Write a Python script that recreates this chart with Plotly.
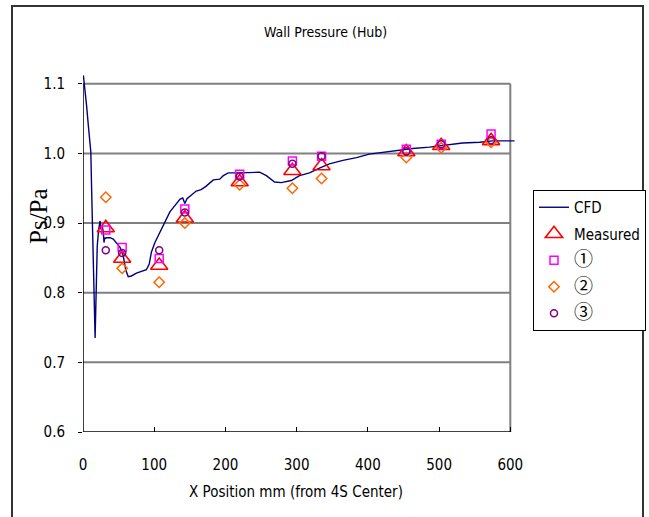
import plotly.graph_objects as go

# ---------------- data ----------------
cfd_x = [0.5, 3, 5, 7.5, 11, 12, 13.5, 14.5, 16, 17, 18, 19, 20, 22, 24, 25, 27, 28.5, 29.5, 30.5,
         31.5, 33, 38, 42.5, 47, 52, 56.5, 60, 63.5, 68, 75, 82, 89, 93, 96, 101, 108, 115, 122, 129,
         136, 140, 143, 146, 151, 159, 166, 173, 183, 192, 197, 204, 220, 248, 257.5, 269, 278.5, 292.5, 304, 318,
         332, 346, 365, 384, 402, 426, 444, 463, 486.5, 510, 533, 557, 575, 606]
cfd_y = [1.112, 1.09, 1.069, 1.04, 1.002, 0.953, 0.877, 0.824, 0.761, 0.735, 0.78, 0.829, 0.867, 0.891, 0.903, 0.891, 0.896, 0.887, 0.872, 0.879,
         0.878, 0.879, 0.879, 0.877, 0.872, 0.865, 0.853, 0.833, 0.823, 0.824, 0.828, 0.831, 0.833, 0.841, 0.858, 0.872, 0.887, 0.901, 0.916, 0.925,
         0.934, 0.936, 0.928, 0.935, 0.939, 0.946, 0.948, 0.953, 0.962, 0.963, 0.968, 0.972, 0.972, 0.973, 0.968, 0.959, 0.958, 0.961, 0.968, 0.972,
         0.979, 0.985, 0.99, 0.994, 0.999, 1.002, 1.005, 1.007, 1.009, 1.012, 1.015, 1.016, 1.018, 1.018]

meas_x = [32, 55, 107, 143, 220, 294, 335, 454, 503, 573]
measured = [0.893, 0.849, 0.839, 0.907, 0.959, 0.975, 0.982, 1.002, 1.011, 1.018]
s1 = [0.890, 0.865, 0.849, 0.920, 0.970, 0.989, 0.996, 1.006, 1.013, 1.028]
s2 = [0.937, 0.835, 0.815, 0.900, 0.955, 0.950, 0.964, 0.994, 1.008, 1.016]
s3 = [0.861, 0.857, 0.861, 0.915, 0.967, 0.985, 0.996, 1.003, 1.013, 1.019]

x_ticks = [0, 100, 200, 300, 400, 500, 600]
y_ticks = [0.6, 0.7, 0.8, 0.9, 1.0, 1.1]

title_text = "Wall Pressure (Hub)"
x_title = "X Position mm (from 4S Center)"
y_title = "Ps/Pa"

# ---------------- layout geometry ----------------
W, H = 649, 517
X_MIN, X_MAX = 0, 600
Y_MIN, Y_MAX = 0.6, 1.1
X_RANGE = [0, 608]
Y_RANGE = [0.6, 1.114]
L, R, T, B = 83, 133, 74, 85
PW, PH = W - L - R, H - T - B

def px(xp):
    return (xp - L) / PW

def py(yp):
    return 1 - (yp - T) / PH

FONT = "DejaVu Sans Condensed, Liberation Sans Narrow, Arial Narrow, Liberation Sans, sans-serif"
CJK = "Noto Sans CJK JP"

def circ(s):
    return f'<span style="font-family:{CJK};font-size:19px">{s}</span>'

fig = go.Figure()
fig.add_trace(go.Scatter(x=cfd_x, y=cfd_y, mode="lines", name="CFD", legendgroup="a",
                         line=dict(color="#000080", width=1.4)))
fig.add_trace(go.Scatter(x=meas_x, y=measured, mode="markers", name="Measured", legendgroup="b",
                         marker=dict(symbol="triangle-up-open", size=15, color="#FF0000",
                                     line=dict(width=1.6, color="#FF0000"))))
fig.add_trace(go.Scatter(x=meas_x, y=s1, mode="markers", name=circ("①"), legendgroup="c",
                         marker=dict(symbol="square-open", size=8, color="#FF00FF",
                                     line=dict(width=1.5, color="#FF00FF"))))
fig.add_trace(go.Scatter(x=meas_x, y=s2, mode="markers", name=circ("②"), legendgroup="d",
                         marker=dict(symbol="diamond-open", size=8, color="#FF6600",
                                     line=dict(width=1.5, color="#FF6600"))))
fig.add_trace(go.Scatter(x=meas_x, y=s3, mode="markers", name=circ("③"), legendgroup="e",
                         marker=dict(symbol="circle-open", size=7, color="#800080",
                                     line=dict(width=1.5, color="#800080"))))

shapes = []
for yv in y_ticks[1:]:
    shapes.append(dict(type="line", xref="x", yref="y", x0=X_MIN, x1=X_MAX, y0=yv, y1=yv,
                       line=dict(color="#808080", width=2), layer="below"))
shapes.append(dict(type="line", xref="x", yref="y", x0=X_MAX, x1=X_MAX, y0=Y_MIN, y1=Y_MAX,
                   line=dict(color="#808080", width=2), layer="below"))
shapes.append(dict(type="line", xref="x", yref="y", x0=X_MIN, x1=X_MAX, y0=Y_MIN, y1=Y_MIN,
                   line=dict(color="black", width=1.5), layer="below"))
shapes.append(dict(type="line", xref="x", yref="y", x0=X_MIN, x1=X_MIN, y0=Y_MIN, y1=Y_MAX,
                   line=dict(color="black", width=1.5), layer="below"))
shapes.append(dict(type="path", xref="paper", yref="paper",
                   path=f"M {px(12)},{py(520)} L {px(12)},{py(6)} L {px(643)},{py(6)} L {px(643)},{py(520)}",
                   line=dict(color="#333333", width=2)))

fig.update_layout(
    width=W, height=H,
    margin=dict(l=L, r=R, t=T, b=B, pad=0, autoexpand=False),
    paper_bgcolor="white", plot_bgcolor="white",
    font=dict(family=FONT, size=14, color="black"),
    showlegend=True,
    legend=dict(x=px(533), y=py(190), xanchor="left", yanchor="top",
                bordercolor="black", borderwidth=1, bgcolor="white",
                font=dict(family=FONT, size=15, color="black"),
                tracegroupgap=4, itemwidth=30),
    xaxis=dict(range=X_RANGE, tickmode="array", tickvals=x_ticks, ticktext=[str(v) for v in x_ticks],
               showgrid=False, zeroline=False, showline=False,
               ticks="inside", ticklen=5, tickcolor="black", tickwidth=1,
               ticklabelstandoff=22, tickfont=dict(family=FONT, size=15)),
    yaxis=dict(range=Y_RANGE, tickmode="array", tickvals=y_ticks, ticktext=[f"{v:.1f}" for v in y_ticks],
               showgrid=False, zeroline=False, showline=False,
               ticks="outside", ticklen=4, tickcolor="black", tickwidth=1,
               ticklabelstandoff=10, tickfont=dict(family=FONT, size=15)),
    shapes=shapes,
    annotations=[
        dict(text=title_text, xref="paper", yref="paper", x=px(325), y=py(32),
             xanchor="center", yanchor="middle", showarrow=False,
             font=dict(family=FONT, size=14)),
        dict(text=x_title, xref="paper", yref="paper", x=px(296), y=py(492),
             xanchor="center", yanchor="middle", showarrow=False,
             font=dict(family=FONT, size=15)),
        dict(text=y_title, xref="paper", yref="paper", x=px(38), y=py(216),
             xanchor="center", yanchor="middle", showarrow=False, textangle=-90,
             font=dict(family="Liberation Serif, Times New Roman, serif", size=25)),
    ],
)

fig.write_html("out.html")
